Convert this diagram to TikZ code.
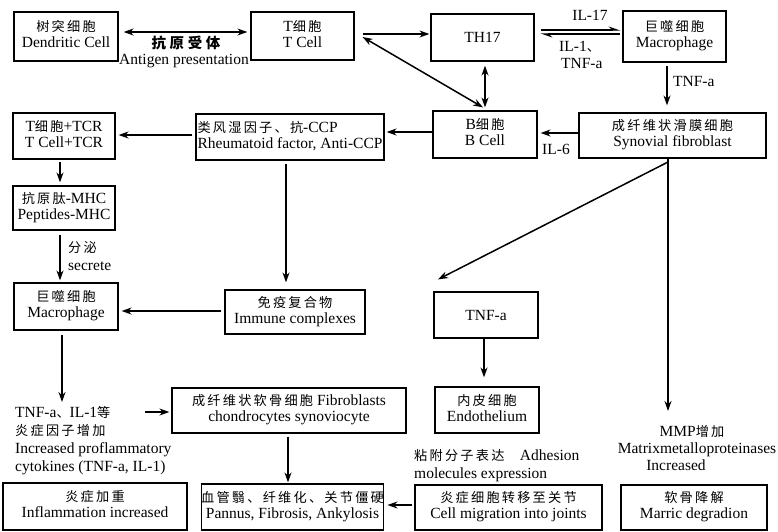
\documentclass[tikz,border=0pt]{standalone}
\usepackage{fontspec}
\setmainfont{Liberation Serif}
\newfontfamily\cjk[Scale=0.85,LetterSpace=17]{Noto Sans CJK SC}
\newfontfamily\cjkb[Scale=0.85,LetterSpace=25]{Noto Sans CJK SC}
\usetikzlibrary{arrows.meta}
\newcommand{\zh}[1]{\raisebox{0pt}[0.68em][0.06em]{\cjk #1}}
\newcommand{\twol}[2]{\begin{tabular}{@{}c@{}}#1\\#2\end{tabular}}
\newcommand{\twoleft}[2]{\begin{tabular}{@{}l@{}}#1\\#2\end{tabular}}
\begin{document}
\begin{tikzpicture}[x=1pt,y=-1pt,
  box/.style={draw, line width=1.2pt, inner sep=0pt, font=\fontsize{15.5}{16}\selectfont},
  arr/.style={line width=1.5pt, -{Stealth[length=10pt,width=7pt]}},
  dbl/.style={line width=1.5pt, {Stealth[length=10pt,width=7pt]}-{Stealth[length=10pt,width=7pt]}},
  hl/.style={line width=1.2pt, -{Stealth[length=10pt,width=7pt,left]}},
  lbl/.style={inner sep=0pt, font=\fontsize{15.5}{16}\selectfont}]
\useasboundingbox (0,0) rectangle (778,531);

% boxes
\node[box, minimum width=104pt, minimum height=49pt] (dc) at (66,36.5) {\twol{\zh{树突细胞}}{Dendritic Cell}};
\node[box, minimum width=103pt, minimum height=48pt] (tc) at (302.5,36) {\twol{T\zh{细胞}}{T Cell}};
\node[box, minimum width=103pt, minimum height=47pt] (th) at (482.5,37.5) {TH17};
\node[box, minimum width=103pt, minimum height=51pt] (mac1) at (674.5,36.5) {\twol{\zh{巨噬细胞}}{Macrophage}};
\node[box, minimum width=104pt, minimum height=47pt] (bc) at (485,134.5) {\twol{B\zh{细胞}}{B Cell}};
\node[box, minimum width=187pt, minimum height=45pt] (syn) at (672.5,135.5) {\twol{\zh{成纤维状滑膜细胞}}{Synovial fibroblast}};
\node[box, minimum width=188pt, minimum height=46pt] (rf) at (290,137) {\twoleft{\zh{类风湿因子、抗}-CCP}{Rheumatoid factor, Anti-CCP}};
\node[box, minimum width=102pt, minimum height=46pt] (tcr) at (64,136) {\twol{T\zh{细胞}+TCR}{T Cell+TCR}};
\node[box, minimum width=102pt, minimum height=44pt] (pep) at (64,208) {\twol{\zh{抗原肽}-MHC}{Peptides-MHC}};
\node[box, minimum width=104pt, minimum height=47pt] (mac2) at (66,306.5) {\twol{\zh{巨噬细胞}}{Macrophage}};
\node[box, minimum width=140pt, minimum height=44pt] (ic) at (295,312) {\twol{\zh{免疫复合物}}{Immune complexes}};
\node[box, minimum width=234pt, minimum height=45pt] (fib) at (289,410.5) {\twol{\zh{成纤维状软骨细胞}\ Fibroblasts}{chondrocytes synoviocyte}};
\node[box, minimum width=177pt, minimum height=46pt] (pan) at (292.5,507) {\twol{\zh{血管翳、纤维化、关节僵硬}}{Pannus, Fibrosis, Ankylosis}};
\node[box, minimum width=184pt, minimum height=47pt] (inf) at (95,506.5) {\twol{\zh{炎症加重}}{Inflammation increased}};
\node[box, minimum width=187pt, minimum height=45pt] (mig) at (508.5,507.5) {\twol{\zh{炎症细胞转移至关节}}{Cell migration into joints}};
\node[box, minimum width=104pt, minimum height=46pt] (tnf) at (486,315) {TNF-a};
\node[box, minimum width=104pt, minimum height=46pt] (endo) at (487,410) {\twol{\zh{内皮细胞}}{Endothelium}};
\node[box, minimum width=146pt, minimum height=45pt] (mar) at (694,507.5) {\twol{\zh{软骨降解}}{Marric degradion}};

% free labels
\node[lbl, font=\fontsize{17}{18}\selectfont\bfseries] (ag1) at (186,43) {\cjkb 抗原受体};
\node[lbl] (ag2) at (184,61) {Antigen presentation};
\node[lbl] (il17) at (590,15) {IL-17};
\node[lbl, anchor=west] (il1) at (559,47) {IL-1\zh{、}};
\node[lbl, anchor=west] (tnfa1) at (561,63) {TNF-a};
\node[lbl, anchor=west] (tnfa2) at (673,81) {TNF-a};
\node[lbl] (il6) at (556,149) {IL-6};
\node[lbl, anchor=west] (fm1) at (68,248) {\zh{分泌}};
\node[lbl, anchor=west] (fm2) at (68,266) {secrete};
\node[lbl, anchor=north west, align=left, font=\fontsize{15.5}{18}\selectfont] (cyt) at (15,407) {TNF-a\zh{、}IL-1\zh{等}\\\zh{炎症因子增加}\\Increased proflammatory\\cytokines (TNF-a, IL-1)};
\node[lbl, anchor=north west, align=left, font=\fontsize{15.5}{17.5}\selectfont] (adh) at (414,450) {\zh{粘附分子表达}\quad Adhesion\\molecules expression};
\node[lbl, align=center, font=\fontsize{15.5}{17}\selectfont] (mmp) at (697,448) {MMP\zh{增加}\hspace*{10pt}\\Matrixmetalloproteinases\\Increased\hspace*{42pt}};

\coordinate (cytin) at (62,402);
\coordinate (cytout) at (145,412);
\coordinate (mmpin) at (668,411);
\coordinate (split) at (668,162);

% connectors
\draw[dbl, shorten <=5pt, shorten >=3pt] ([yshift=4.5pt]dc.east) -- ([yshift=4pt]tc.west);
\draw[arr, shorten <=8pt, shorten >=1pt] ([yshift=2pt]tc.east) -- ([yshift=3.5pt]th.west);
\draw[dbl] ([xshift=8pt,yshift=-1pt]tc.east) -- ([xshift=-2pt,yshift=3pt]bc.north);
\draw[dbl, shorten <=4pt, shorten >=3pt] ([xshift=2.5pt]th.south) -- ([xshift=0pt]bc.north);
\draw[hl] ([xshift=6pt,yshift=7.5pt]th.east) -- ([xshift=-2pt,yshift=6.5pt]mac1.west);
\draw[hl] ([xshift=-2pt,yshift=2.5pt]mac1.west) -- ([xshift=6pt,yshift=3.5pt]th.east);
\draw[arr, shorten <=3pt, shorten >=7pt] ([xshift=-7.5pt]mac1.south) -- ([xshift=-5.5pt]syn.north);
\draw[arr, shorten >=3pt] ([yshift=2.5pt]syn.west) -- ([yshift=1.5pt]bc.east);
\draw[arr, shorten >=2pt] ([yshift=2.5pt]bc.west) -- ([yshift=5pt]rf.east);
\draw[arr, shorten <=3pt, shorten >=3pt] ([yshift=2pt]rf.west) -- ([yshift=1pt]tcr.east);
\draw[arr, shorten <=2pt, shorten >=3pt] ([xshift=-4pt]tcr.south) -- ([xshift=-4pt]pep.north);
\draw[arr, shorten <=4pt, shorten >=2pt] ([xshift=-4pt]pep.south) -- ([xshift=-6pt]mac2.north);
\draw[arr, shorten <=3pt, shorten >=7pt] ([xshift=-4pt]rf.south) -- ([xshift=-9pt]ic.north);
\draw[arr, shorten <=3pt, shorten >=3pt] ([yshift=1pt]ic.west) -- ([yshift=-4.5pt]mac2.east);
\draw[arr, shorten <=4pt] ([xshift=-4pt]mac2.south) -- (cytin);
\draw[arr, shorten >=2pt] (cytout) -- ([yshift=-1.5pt]fib.west);
\draw[arr, shorten <=3pt, shorten >=1pt] ([xshift=-1pt]fib.south) -- ([xshift=-4.5pt]pan.north);
\draw[arr, shorten <=2pt, shorten >=3pt] ([yshift=2.5pt]mig.west) -- ([yshift=2pt]pan.east);
\draw[arr] (split) -- ([xshift=-48pt,yshift=12pt]tnf.north);
\draw[line width=1.5pt] ([xshift=-4.5pt]syn.south) -- (split);
\draw[arr] (split) -- (mmpin);
\draw[arr, shorten >=9pt] ([xshift=-2pt]tnf.south) -- ([xshift=-3pt]endo.north);
\end{tikzpicture}
\end{document}
